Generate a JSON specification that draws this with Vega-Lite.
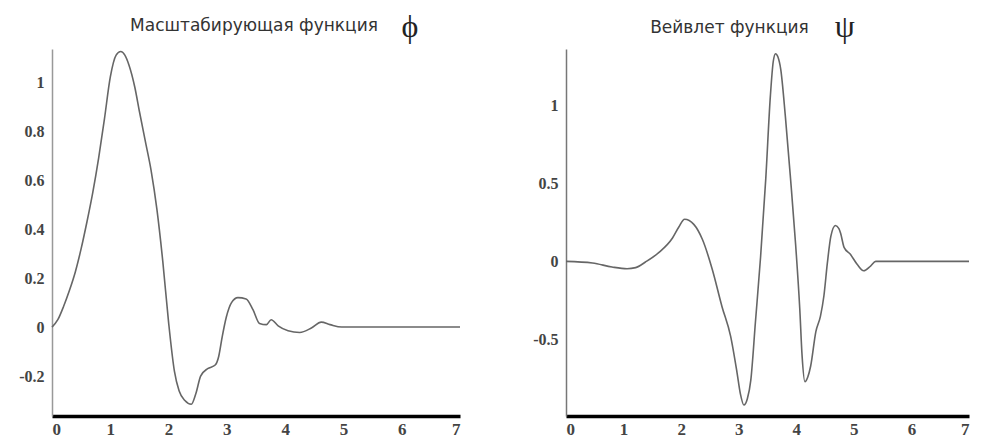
{
  "$schema": "https://vega.github.io/schema/vega-lite/v6.json",
  "background": "white",
  "padding": {"left": 18, "top": 10, "right": 0, "bottom": 0},
  "datasets": {
    "phi": [
      {"x": 0, "y": 0}, {"x": 0.1, "y": 0.03}, {"x": 0.2, "y": 0.085}, {"x": 0.3, "y": 0.15},
      {"x": 0.4, "y": 0.225}, {"x": 0.5, "y": 0.32}, {"x": 0.6, "y": 0.43}, {"x": 0.7, "y": 0.55},
      {"x": 0.8, "y": 0.69}, {"x": 0.9, "y": 0.85}, {"x": 1.0, "y": 1.02}, {"x": 1.1, "y": 1.11},
      {"x": 1.18, "y": 1.125}, {"x": 1.25, "y": 1.11}, {"x": 1.32, "y": 1.07}, {"x": 1.42, "y": 0.98},
      {"x": 1.5, "y": 0.88}, {"x": 1.6, "y": 0.76}, {"x": 1.7, "y": 0.64}, {"x": 1.8, "y": 0.48},
      {"x": 1.9, "y": 0.27}, {"x": 2.0, "y": 0.02}, {"x": 2.1, "y": -0.18}, {"x": 2.18, "y": -0.26},
      {"x": 2.28, "y": -0.3}, {"x": 2.39, "y": -0.315}, {"x": 2.47, "y": -0.27}, {"x": 2.55, "y": -0.2},
      {"x": 2.67, "y": -0.17}, {"x": 2.8, "y": -0.155}, {"x": 2.86, "y": -0.12}, {"x": 2.92, "y": -0.04},
      {"x": 2.99, "y": 0.04}, {"x": 3.08, "y": 0.1}, {"x": 3.19, "y": 0.12}, {"x": 3.33, "y": 0.115},
      {"x": 3.45, "y": 0.07}, {"x": 3.56, "y": 0.015}, {"x": 3.68, "y": 0.01}, {"x": 3.76, "y": 0.03},
      {"x": 3.88, "y": 0.005}, {"x": 4.05, "y": -0.015}, {"x": 4.25, "y": -0.022}, {"x": 4.45, "y": -0.004},
      {"x": 4.62, "y": 0.02}, {"x": 4.77, "y": 0.01}, {"x": 4.97, "y": 0}, {"x": 7, "y": 0}
    ],
    "psi": [
      {"x": 0, "y": 0}, {"x": 0.46, "y": -0.01}, {"x": 0.8, "y": -0.036}, {"x": 1.06, "y": -0.047},
      {"x": 1.21, "y": -0.04}, {"x": 1.38, "y": -0.004}, {"x": 1.61, "y": 0.056}, {"x": 1.85, "y": 0.15},
      {"x": 1.96, "y": 0.22}, {"x": 2.06, "y": 0.27}, {"x": 2.22, "y": 0.237}, {"x": 2.37, "y": 0.14},
      {"x": 2.54, "y": -0.05}, {"x": 2.71, "y": -0.29}, {"x": 2.86, "y": -0.48}, {"x": 2.97, "y": -0.71},
      {"x": 3.03, "y": -0.85}, {"x": 3.09, "y": -0.92}, {"x": 3.15, "y": -0.88}, {"x": 3.21, "y": -0.76},
      {"x": 3.29, "y": -0.39}, {"x": 3.38, "y": 0.03}, {"x": 3.47, "y": 0.53}, {"x": 3.55, "y": 1.06},
      {"x": 3.6, "y": 1.28}, {"x": 3.64, "y": 1.33}, {"x": 3.68, "y": 1.31}, {"x": 3.73, "y": 1.23},
      {"x": 3.81, "y": 0.93}, {"x": 3.9, "y": 0.53}, {"x": 3.99, "y": 0.1}, {"x": 4.06, "y": -0.3},
      {"x": 4.1, "y": -0.6}, {"x": 4.15, "y": -0.77}, {"x": 4.2, "y": -0.74}, {"x": 4.25, "y": -0.67},
      {"x": 4.34, "y": -0.45}, {"x": 4.42, "y": -0.35}, {"x": 4.48, "y": -0.22}, {"x": 4.54, "y": -0.01},
      {"x": 4.6, "y": 0.16}, {"x": 4.68, "y": 0.23}, {"x": 4.74, "y": 0.21}, {"x": 4.77, "y": 0.18},
      {"x": 4.83, "y": 0.09}, {"x": 4.94, "y": 0.045}, {"x": 5.06, "y": -0.02}, {"x": 5.17, "y": -0.06},
      {"x": 5.29, "y": -0.03}, {"x": 5.38, "y": 0}, {"x": 7, "y": 0}
    ],
    "phisym": [{"sym": "ϕ"}],
    "psisym": [{"sym": "ψ"}]
  },
  "spacing": 106,
  "bounds": "flush",
  "hconcat": [
    {
      "width": 408,
      "height": 367,
      "title": {"text": "Масштабирующая функция", "dx": -2, "offset": -23.6},
      "layer": [
        {
          "data": {"name": "phi"},
          "mark": {"type": "line", "interpolate": "monotone", "color": "#666", "strokeWidth": 1.6},
          "encoding": {
            "x": {"field": "x", "type": "quantitative", "scale": {"domain": [0, 7], "nice": false},
                  "axis": {"values": [0, 1, 2, 3, 4, 5, 6, 7], "domainColor": "#000", "domainWidth": 3.5}},
            "y": {"field": "y", "type": "quantitative", "scale": {"domain": [-0.363, 1.135], "nice": false, "zero": false},
                  "axis": {"values": [-0.2, 0, 0.2, 0.4, 0.6, 0.8, 1], "domainColor": "#999", "domainWidth": 1.5}}
          }
        },
        {
          "data": {"name": "phisym"},
          "mark": {"type": "text", "font": "Liberation Serif", "fontSize": 32, "color": "#222", "baseline": "middle", "align": "center", "clip": false},
          "encoding": {
            "x": {"datum": 6.14, "type": "quantitative"},
            "y": {"datum": 1.225, "type": "quantitative"},
            "text": {"field": "sym"}
          }
        }
      ]
    },
    {
      "width": 403,
      "height": 367,
      "title": {"text": "Вейвлет функция", "dx": -38, "offset": -25.8},
      "layer": [
        {
          "data": {"name": "psi"},
          "mark": {"type": "line", "interpolate": "monotone", "color": "#666", "strokeWidth": 1.6},
          "encoding": {
            "x": {"field": "x", "type": "quantitative", "scale": {"domain": [0, 7], "nice": false},
                  "axis": {"values": [0, 1, 2, 3, 4, 5, 6, 7], "domainColor": "#000", "domainWidth": 3.5}},
            "y": {"field": "y", "type": "quantitative", "scale": {"domain": [-0.99, 1.36], "nice": false, "zero": false},
                  "axis": {"values": [-0.5, 0, 0.5, 1], "domainColor": "#777", "domainWidth": 1.5}}
          }
        },
        {
          "data": {"name": "psisym"},
          "mark": {"type": "text", "font": "Liberation Serif", "fontSize": 32, "color": "#222", "baseline": "middle", "align": "center", "clip": false},
          "encoding": {
            "x": {"datum": 4.84, "type": "quantitative"},
            "y": {"datum": 1.5, "type": "quantitative"},
            "text": {"field": "sym"}
          }
        }
      ]
    }
  ],
  "config": {
    "view": {"stroke": null},
    "title": {"font": "DejaVu Sans", "fontSize": 17, "fontWeight": "normal", "color": "#333", "anchor": "middle", "frame": "group"},
    "axis": {
      "grid": false,
      "ticks": false,
      "title": null,
      "format": "~g",
      "labelFont": "Liberation Serif",
      "labelFontWeight": "bold",
      "labelColor": "#444",
      "labelExpr": "replace(datum.label, '−', '-')"
    },
    "axisY": {"labelPadding": 8, "labelFontSize": 16},
    "axisX": {"labelPadding": 5, "labelFontSize": 17}
  }
}
